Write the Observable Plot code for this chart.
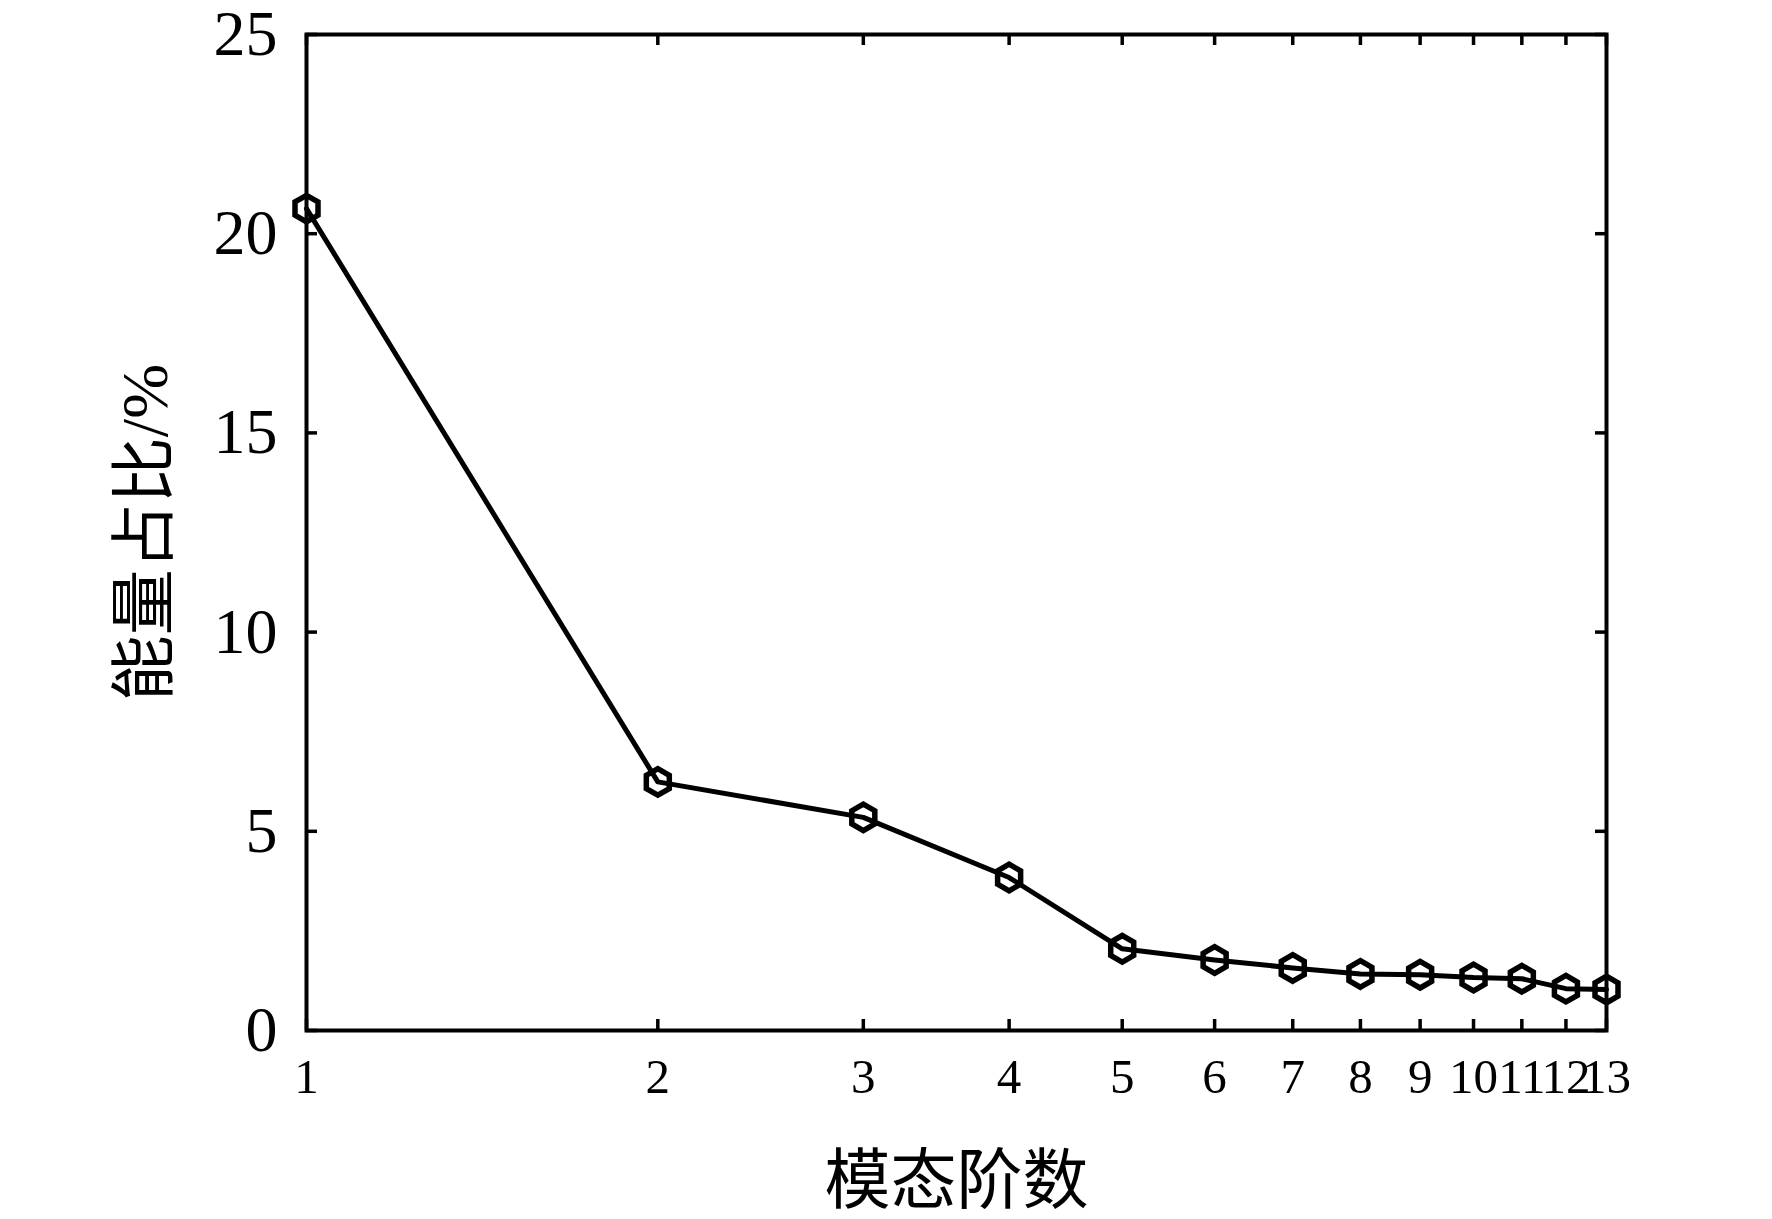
<!DOCTYPE html>
<html>
<head>
<meta charset="utf-8">
<script src="https://cdn.jsdelivr.net/npm/d3@7"></script>
<script src="https://cdn.jsdelivr.net/npm/@observablehq/plot@0.6"></script>
<style>
  html, body { margin: 0; padding: 0; background: #fff; }
  #chart svg { display: block; }
  #chart svg, #chart svg text { font-family: "Liberation Serif", "Noto Sans CJK SC", serif; }
</style>
</head>
<body>
<div id="chart"></div>
<script>
// Data
const modes = [1, 2, 3, 4, 5, 6, 7, 8, 9, 10, 11, 12, 13];
const energy = [20.63, 6.24, 5.35, 3.84, 2.05, 1.77, 1.57, 1.42, 1.40, 1.33, 1.30, 1.05, 1.03];
const xTicks = [1, 2, 3, 4, 5, 6, 7, 8, 9, 10, 11, 12, 13];
const yTicks = [0, 5, 10, 15, 20, 25];
const xTitle = "模态阶数";
const yTitle = "能量占比/%";

const data = modes.map((m, i) => ({mode: m, value: energy[i]}));

const W = 1772, H = 1219;
const mL = 306, mR = 166, mT = 34, mB = 189;
const plotH = H - mT - mB, plotW = W - mL - mR;
const tickLen = 11;
const FONT = '"Liberation Serif", "Noto Sans CJK SC", serif';

const chart = Plot.plot({
  width: W,
  height: H,
  marginLeft: mL,
  marginRight: mR,
  marginTop: mT,
  marginBottom: mB,
  style: "background: white; color: black; overflow: visible;",
  x: {type: "log", domain: [1, 13]},
  y: {domain: [0, 25]},
  marks: [
    Plot.axisX(xTicks, {tickSize: 0, tickPadding: 28, fontSize: 49, fontFamily: FONT, tickFormat: d => String(d), label: null}),
    Plot.axisY(yTicks, {tickSize: 0, tickPadding: 29, fontSize: 64, fontFamily: FONT, tickFormat: d => String(d), label: null}),
    Plot.tickX(xTicks, {x: d => d, insetTop: plotH - tickLen, stroke: "black", strokeWidth: 3.5}),
    Plot.tickX(xTicks, {x: d => d, insetBottom: plotH - tickLen, stroke: "black", strokeWidth: 3.5}),
    Plot.tickY(yTicks, {y: d => d, insetRight: plotW - tickLen, stroke: "black", strokeWidth: 3.5}),
    Plot.tickY(yTicks, {y: d => d, insetLeft: plotW - tickLen, stroke: "black", strokeWidth: 3.5}),
    Plot.frame({stroke: "black", strokeWidth: 4}),
    Plot.line(data, {x: "mode", y: "value", stroke: "black", strokeWidth: 5}),
    Plot.dot(data, {x: "mode", y: "value", symbol: "hexagon", r: 11.5, stroke: "black", strokeWidth: 5.5, fill: "none"}),
    Plot.text([xTitle], {text: d => d, frameAnchor: "bottom", dy: 151, lineAnchor: "middle", textAnchor: "middle", fontSize: 66, fontFamily: FONT, fill: "black"}),
    Plot.text([yTitle], {text: d => d, frameAnchor: "left", dx: -161, rotate: -90, lineAnchor: "middle", textAnchor: "middle", fontSize: 66, fontFamily: FONT, fill: "black"})
  ]
});

document.getElementById("chart").appendChild(chart);
</script>
</body>
</html>
